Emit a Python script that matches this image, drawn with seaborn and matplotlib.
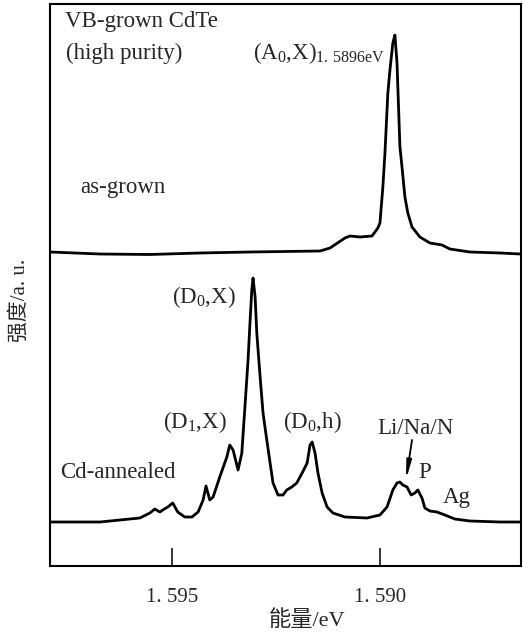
import matplotlib
matplotlib.use("Agg")
import matplotlib.pyplot as plt
import seaborn as sns
import pandas as pd

# ---- data (energy in eV, intensity in arbitrary units) ----
asgrown_energy = [1.59793, 1.59673, 1.59553, 1.59433, 1.59312, 1.59144, 1.59120, 1.59084,
                  1.59072, 1.59048, 1.59019, 1.59005, 1.59000, 1.58993, 1.58988, 1.58981,
                  1.58976, 1.58969, 1.58964, 1.58959, 1.58952, 1.58947, 1.58940, 1.58933,
                  1.58923, 1.58904, 1.58880, 1.58851, 1.58832, 1.58784, 1.58711, 1.58663]
asgrown_intensity = [314, 312, 311.5, 313, 314, 315, 318, 328,
                     330, 329, 330, 338, 343, 379, 413, 473,
                     496, 523, 531, 503, 419, 399, 369, 353,
                     339, 329, 323, 321, 317, 314, 313, 312]

annealed_energy = [1.59793, 1.59673, 1.59577, 1.59553, 1.59541, 1.59529, 1.59522, 1.59510,
                   1.59498, 1.59486, 1.59469, 1.59452, 1.59437, 1.59425, 1.59418, 1.59409,
                   1.59401, 1.59385, 1.59368, 1.59361, 1.59353, 1.59341, 1.59332, 1.59325,
                   1.59317, 1.59312, 1.59308, 1.59305, 1.59300, 1.59296, 1.59288, 1.59281,
                   1.59272, 1.59264, 1.59257, 1.59245, 1.59233, 1.59224, 1.59212, 1.59200,
                   1.59187, 1.59175, 1.59168, 1.59163, 1.59156, 1.59149, 1.59139, 1.59127,
                   1.59113, 1.59084, 1.59031, 1.59000, 1.58983, 1.58969, 1.58959, 1.58952,
                   1.58945, 1.58935, 1.58925, 1.58916, 1.58909, 1.58899, 1.58892, 1.58880,
                   1.58863, 1.58844, 1.58820, 1.58784, 1.58711, 1.58663]
annealed_intensity = [44, 44, 48, 53, 57, 54, 56, 59,
                      63, 54, 49, 49, 54, 66, 80, 66,
                      69, 89, 109, 121, 116, 96, 113, 156,
                      206, 246, 276, 288, 269, 233, 189, 153,
                      126, 103, 83, 71, 71, 76, 79, 83,
                      93, 103, 121, 124, 113, 93, 73, 59,
                      53, 49, 48, 51, 59, 76, 83, 84,
                      81, 79, 71, 73, 76, 68, 58, 55,
                      54, 51, 47, 45, 44, 44]

tick_values = [1.595, 1.590]
tick_labels = ["1. 595", "1. 590"]

# ---- style ----
sns.set_theme(style="white")
plt.rcParams["font.family"] = ["Liberation Serif", "Noto Sans CJK SC"]
plt.rcParams["mathtext.fontset"] = "custom"
plt.rcParams["mathtext.rm"] = "Liberation Serif"
plt.rcParams["mathtext.it"] = "Liberation Serif:italic"

W, H = 523, 632
fig = plt.figure(figsize=(W / 100, H / 100), dpi=100)
ax = fig.add_axes([50 / W, 1 - 566 / H, 471 / W, 562 / H])

df_a = pd.DataFrame({"E": asgrown_energy, "I": asgrown_intensity})
df_b = pd.DataFrame({"E": annealed_energy, "I": annealed_intensity})
sns.lineplot(data=df_a, x="E", y="I", ax=ax, color="black", lw=2.0, sort=False, estimator=None)
sns.lineplot(data=df_b, x="E", y="I", ax=ax, color="black", lw=2.0, sort=False, estimator=None)

ax.set_xlim(1.59793, 1.58661)
ax.set_ylim(0, 562)
ax.set_xticks(tick_values)
ax.set_xticklabels(tick_labels, fontsize=15)
ax.set_yticks([])
ax.tick_params(axis="x", direction="in", length=13, width=1.3, pad=16, bottom=True)
ax.set_xlabel("")
ax.set_ylabel("")
for s in ax.spines.values():
    s.set_linewidth(1.5)
    s.set_color("black")


def px(x, y):
    return x / W, 1 - y / H


fs = 16.5
texts = [
    ("VB-grown CdTe", 65, 22, fs),
    ("(high purity)", 66, 53, fs),
    ("as-grown", 80, 187, fs),
    ("Cd-annealed", 60, 473, fs),
    ("Li/Na/N", 377, 428, fs),
    ("P", 418, 473, fs),
    ("Ag", 443, 498, fs),
]
for t, x, y, s in texts:
    fig.text(*px(x, y), t, ha="left", va="center", fontsize=s)

fig.text(*px(253, 53), r"(A$_0$,X)$_{\mathregular{1.\,5896eV}}$", ha="left", va="center", fontsize=fs)
fig.text(*px(172, 297), r"(D$_0$,X)", ha="left", va="center", fontsize=fs)
fig.text(*px(163, 422), r"(D$_1$,X)", ha="left", va="center", fontsize=fs)
fig.text(*px(283, 422), r"(D$_0$,h)", ha="left", va="center", fontsize=fs)

ax.annotate("", xy=(406, H - 480), xytext=(412, H - 440), xycoords="figure pixels",
            textcoords="figure pixels",
            arrowprops=dict(arrowstyle="-|>,head_width=0.12,head_length=0.9", color="black",
                            lw=1.3, shrinkA=0, shrinkB=0))

fig.text(*px(307, 621), "能量/eV", ha="center", va="center", fontsize=16)
fig.text(*px(20, 300), "强度/a. u.", ha="center", va="center", rotation=90, fontsize=15)

fig.savefig("out.png", dpi=100)
